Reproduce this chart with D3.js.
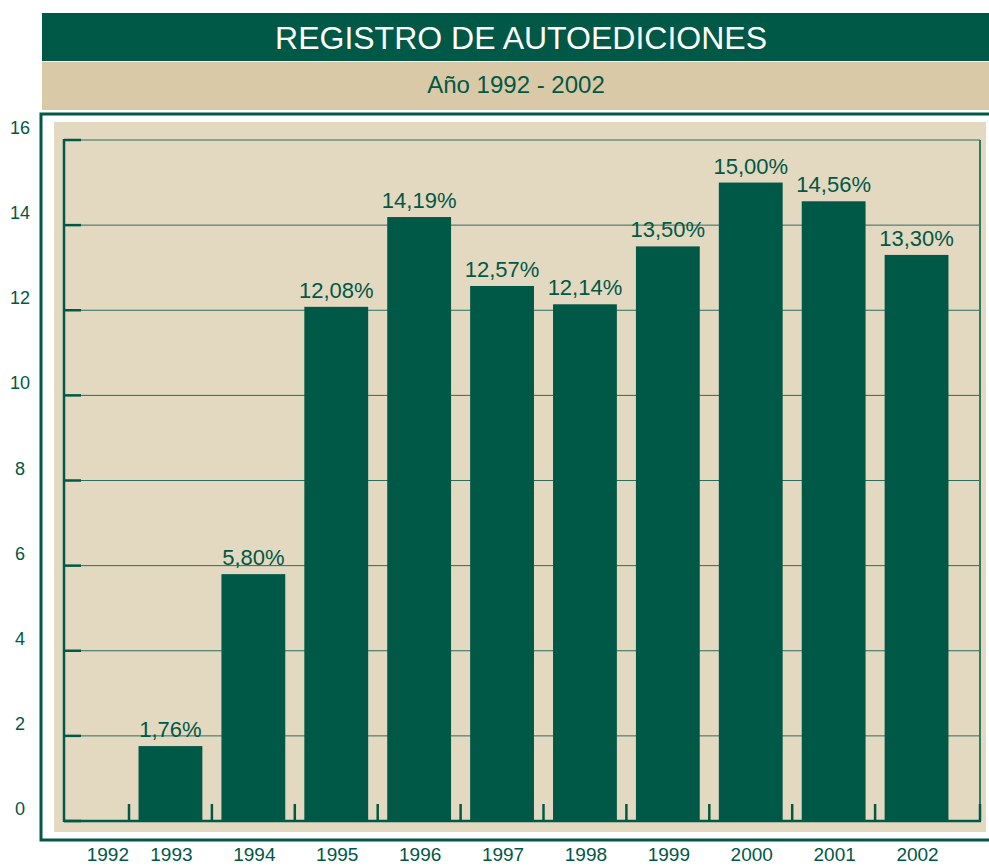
<!DOCTYPE html>
<html>
<head>
<meta charset="utf-8">
<script src="https://cdn.jsdelivr.net/npm/d3@7"></script>
<style>
  body { margin: 0; background: #fff; }
  text { font-family: "Liberation Sans", Arial, sans-serif; }
</style>
</head>
<body>
<div id="chart"></div>
<script>
// Data
const years = ["1992", "1993", "1994", "1995", "1996", "1997", "1998", "1999", "2000", "2001", "2002"];
const values = [0, 1.76, 5.80, 12.08, 14.19, 12.57, 12.14, 13.50, 15.00, 14.56, 13.30];
const yTicks = [0, 2, 4, 6, 8, 10, 12, 14, 16];
const title = "REGISTRO DE AUTOEDICIONES";
const subtitle = "Año 1992 - 2002";

const green = "#005846";
const tan = "#d9c9a6";
const panel = "#e3d9c1";

const W = 989, H = 866;
const plot = { left: 64, right: 980, top: 140, bottom: 821 };

const svg = d3.select("#chart").append("svg")
    .attr("width", W)
    .attr("height", H);

// Header bars
svg.append("rect").attr("x", 42).attr("y", 13).attr("width", W - 42).attr("height", 48).attr("fill", green);
svg.append("text")
    .attr("x", 521).attr("y", 49)
    .attr("text-anchor", "middle")
    .attr("fill", "#fff")
    .style("font-size", "32px")
    .text(title);

svg.append("rect").attr("x", 42).attr("y", 62).attr("width", W - 42).attr("height", 48).attr("fill", tan);
svg.append("text")
    .attr("x", 516).attr("y", 93)
    .attr("text-anchor", "middle")
    .attr("fill", green)
    .style("font-size", "24px")
    .text(subtitle);

// Outer frame (open on the right)
svg.append("path")
    .attr("d", `M${W},114 H41 V840 H${W}`)
    .attr("fill", "none")
    .attr("stroke", green)
    .attr("stroke-width", 3);

// Inner panel
svg.append("rect").attr("x", 54).attr("y", 122).attr("width", 932).attr("height", 710).attr("fill", panel);

// Scales
const step = 82.9;
const firstTick = 129;
const x = d3.scaleBand()
    .domain(years)
    .range([firstTick - step, firstTick - step + step * years.length])
    .paddingInner(0.23)
    .paddingOuter(0.115);

const y = d3.scaleLinear()
    .domain([0, 16])
    .range([plot.bottom, plot.top]);

const boundary = d => x(d) - (x.step() - x.bandwidth()) / 2;

// Gridlines
svg.append("g")
    .selectAll("line")
    .data(yTicks.filter(d => d > 0))
    .join("line")
    .attr("x1", plot.left).attr("x2", plot.right)
    .attr("y1", d => y(d)).attr("y2", d => y(d))
    .attr("stroke", "#2c6d5b")
    .attr("stroke-width", 1);

// Right border of plot
svg.append("line")
    .attr("x1", plot.right).attr("x2", plot.right)
    .attr("y1", plot.top).attr("y2", plot.bottom)
    .attr("stroke", "#2f7a63")
    .attr("stroke-width", 2);

const barData = years.map((yr, i) => ({ yr, v: values[i] })).filter(d => d.v > 0);

// Bars
svg.append("g")
    .selectAll("rect")
    .data(barData)
    .join("rect")
    .attr("x", d => x(d.yr))
    .attr("y", d => y(d.v))
    .attr("width", x.bandwidth())
    .attr("height", d => y(0) - y(d.v))
    .attr("fill", green);

// Value labels
svg.append("g")
    .selectAll("text")
    .data(barData)
    .join("text")
    .attr("x", d => x(d.yr) + x.bandwidth() / 2)
    .attr("y", d => y(d.v) - 9)
    .attr("text-anchor", "middle")
    .attr("fill", green)
    .style("font-size", "22px")
    .text(d => d.v.toFixed(2).replace(".", ",") + "%");

// Left axis line and tick stubs
svg.append("line")
    .attr("x1", plot.left).attr("x2", plot.left)
    .attr("y1", plot.top - 1).attr("y2", plot.bottom + 1)
    .attr("stroke", green).attr("stroke-width", 2.5);

svg.append("g")
    .selectAll("line")
    .data(yTicks)
    .join("line")
    .attr("x1", plot.left).attr("x2", plot.left + 17)
    .attr("y1", d => y(d)).attr("y2", d => y(d))
    .attr("stroke", green).attr("stroke-width", 2.5);

// Bottom axis line and tick marks
svg.append("line")
    .attr("x1", plot.left).attr("x2", plot.right + 1)
    .attr("y1", plot.bottom).attr("y2", plot.bottom)
    .attr("stroke", green).attr("stroke-width", 2.5);

svg.append("g")
    .selectAll("line")
    .data(years.slice(1))
    .join("line")
    .attr("x1", d => boundary(d)).attr("x2", d => boundary(d))
    .attr("y1", plot.bottom).attr("y2", plot.bottom - 17)
    .attr("stroke", green).attr("stroke-width", 2.5);

svg.append("line")
    .attr("x1", plot.right).attr("x2", plot.right)
    .attr("y1", plot.bottom).attr("y2", plot.bottom - 17)
    .attr("stroke", green).attr("stroke-width", 2.5);

// Y tick labels
svg.append("g")
    .selectAll("text")
    .data(yTicks)
    .join("text")
    .attr("x", 20)
    .attr("y", d => y(d) - 6)
    .attr("text-anchor", "middle")
    .attr("fill", green)
    .style("font-size", "18px")
    .text(d => d);

// X tick labels
svg.append("g")
    .selectAll("text")
    .data(years)
    .join("text")
    .attr("x", (d, i) => i === 0 ? boundary(years[1]) : x(d) + x.bandwidth() / 2 + 1)
    .attr("y", 861)
    .attr("text-anchor", (d, i) => i === 0 ? "end" : "middle")
    .attr("fill", green)
    .style("font-size", "19px")
    .text(d => d);
</script>
</body>
</html>
